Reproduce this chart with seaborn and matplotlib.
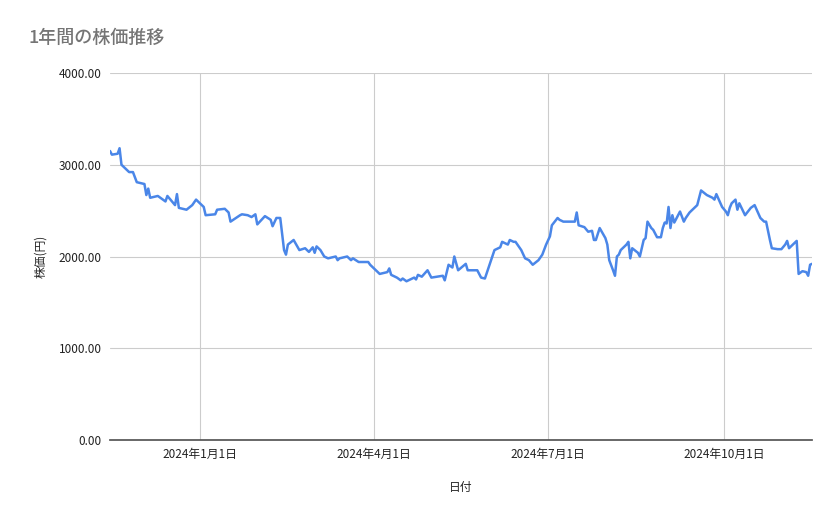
import pandas as pd
import matplotlib
matplotlib.use("Agg")
import matplotlib.pyplot as plt
from matplotlib.ticker import FuncFormatter
import seaborn as sns

# days since start date, and price
start_date = "2023-11-15"
day_offsets = [0, 1, 4, 5, 6, 10, 12, 14, 18, 19, 20, 21, 25, 29, 30, 34, 35, 36, 40, 43,
               45, 49, 50, 55, 56, 60, 62, 63, 68, 69, 72, 74, 76, 77, 81, 84, 85, 87, 89, 91,
               92, 93, 96, 99, 102, 104, 106, 107, 108, 110, 112, 114, 118, 119, 120, 124, 126, 127, 130, 135,
               136, 139, 141, 145, 146, 147, 150, 152, 153, 155, 157, 159, 160, 161, 163, 166, 168, 174, 175, 177,
               179, 180, 182, 186, 187, 190, 192, 194, 196, 201, 203, 204, 205, 208, 209, 211, 212, 215, 217, 219,
               221, 224, 226, 228, 230, 231, 234, 235, 237, 239, 243, 244, 245, 248, 250, 252, 253, 254, 256, 259,
               260, 261, 263, 264, 265, 266, 267, 270, 271, 272, 273, 276, 277, 279, 280, 281, 283, 284, 286, 288,
               289, 290, 291, 292, 293, 294, 295, 298, 300, 301, 303, 307, 309, 312, 315, 316, 317, 320, 322, 323,
               324, 325, 327, 328, 329, 332, 335, 337, 340, 342, 343, 345, 346, 349, 351, 353, 354, 355, 359, 360,
               362, 364, 365, 366, 367]
prices = [3150, 3110, 3120, 3180, 3000, 2920, 2920, 2810, 2790, 2670, 2740, 2640, 2660, 2600, 2660, 2560, 2680, 2530, 2510, 2560,
          2620, 2540, 2450, 2460, 2510, 2520, 2480, 2380, 2450, 2460, 2450, 2430, 2460, 2350, 2440, 2400, 2330, 2420, 2420, 2070,
          2020, 2130, 2180, 2070, 2090, 2050, 2100, 2040, 2110, 2070, 2000, 1980, 2000, 1960, 1980, 2000, 1960, 1980, 1940, 1940,
          1910, 1850, 1810, 1830, 1870, 1800, 1770, 1740, 1760, 1730, 1750, 1770, 1750, 1800, 1780, 1850, 1770, 1790, 1740, 1910,
          1880, 2000, 1850, 1920, 1850, 1850, 1850, 1770, 1760, 2070, 2090, 2100, 2160, 2130, 2180, 2160, 2160, 2070, 1980, 1960,
          1910, 1960, 2020, 2130, 2220, 2340, 2420, 2400, 2380, 2380, 2380, 2480, 2340, 2320, 2270, 2280, 2180, 2180, 2310, 2200,
          2130, 1960, 1850, 1790, 2000, 2020, 2070, 2130, 2160, 1980, 2090, 2040, 2000, 2180, 2200, 2380, 2310, 2290, 2210, 2210,
          2310, 2370, 2360, 2540, 2310, 2450, 2370, 2490, 2380, 2420, 2480, 2560, 2720, 2670, 2640, 2620, 2680, 2540, 2490, 2450,
          2530, 2580, 2620, 2510, 2580, 2450, 2530, 2560, 2420, 2380, 2380, 2180, 2090, 2080, 2080, 2130, 2170, 2090, 2170, 1810,
          1840, 1830, 1790, 1910, 1920]
tick_dates = ["2024-01-01", "2024-04-01", "2024-07-01", "2024-10-01"]
tick_labels = ["2024年1月1日", "2024年4月1日", "2024年7月1日", "2024年10月1日"]
y_ticks = [0, 1000, 2000, 3000, 4000]

df = pd.DataFrame({
    "日付": pd.Timestamp(start_date) + pd.to_timedelta(day_offsets, unit="D"),
    "株価": prices,
})

sns.set_theme(style="whitegrid")
plt.rcParams["font.family"] = ["Noto Sans CJK JP", "DejaVu Sans"]

fig = plt.figure(figsize=(8.39, 5.19), dpi=100)
ax = fig.add_axes([110 / 839, 1 - 440 / 519, 702 / 839, 367 / 519])
sns.lineplot(data=df, x="日付", y="株価", color="#4a86e8", linewidth=1.8, ax=ax)

ax.set_xlim(df["日付"].min(), df["日付"].max())
ax.set_ylim(0, 4000)
ax.set_yticks(y_ticks)
ax.yaxis.set_major_formatter(FuncFormatter(lambda v, p: f"{v:.2f}"))
ax.set_xticks(pd.to_datetime(tick_dates))
ax.set_xticklabels(tick_labels)
ax.grid(color="#cccccc", linewidth=0.8)
for s in ax.spines.values():
    s.set_visible(False)
ax.spines["bottom"].set_visible(True)
ax.spines["bottom"].set_color("#555555")
ax.tick_params(labelsize=8.5, colors="#222222", length=0, pad=6)
ax.set_xlabel("日付", fontsize=8.5, labelpad=14)
ax.set_ylabel("株価(円)", fontsize=8.5, labelpad=8)
fig.text(28 / 839, 1 - 38 / 519, "1年間の株価推移", fontsize=13, color="#757575",
         va="center", fontweight="medium")

fig.savefig("out.png", dpi=100, facecolor="white")
